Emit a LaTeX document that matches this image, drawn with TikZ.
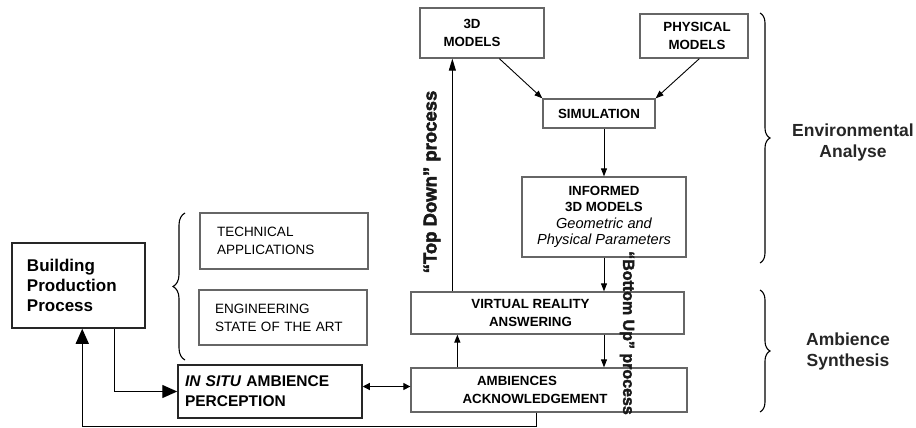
\documentclass[tikz,border=0pt]{standalone}
\usepackage{fontspec}
\setmainfont{Liberation Sans}
\usetikzlibrary{arrows.meta,decorations.pathreplacing,calc}
\begin{document}
\begin{tikzpicture}[x=1pt,y=-1pt,
  box/.style={draw=black!60, line width=1.3pt, inner sep=0pt, align=center,
    font=\fontsize{13.3}{17.5}\selectfont\bfseries},
  lbox/.style={draw=black!60, line width=1.3pt, inner ysep=0pt, align=left,
    font=\fontsize{13.5}{18}\selectfont},
  dbox/.style={draw=black!85, line width=1.5pt, inner ysep=0pt, align=left},
  arr/.style={-{Triangle[length=8pt,width=6pt]}, line width=0.9pt},
  bigarr/.style={-{Triangle[length=15pt,width=13pt]}, line width=1.3pt},
  darr/.style={{Triangle[length=7pt,width=7pt]}-{Triangle[length=7pt,width=7pt]}, line width=1.1pt},
  brace/.style={decorate, decoration={brace, amplitude=#1}, line width=1.1pt},
  side/.style={font=\fontsize{17.5}{21}\selectfont\bfseries, align=center, text=black!85},
  proc/.style={font=\fontsize{#1}{#1}\selectfont\bfseries\addfontfeatures{FakeBold=2.5}, text=black!90}
]
\useasboundingbox (0,0) rectangle (916,428);

% boxes
\node[box, minimum width=124pt, minimum height=50pt] (m3d) at (482,33)
  {3D\hspace*{20pt}\\MODELS\hspace*{20pt}};
\node[box, minimum width=108pt, minimum height=44pt] (phys) at (694,36)
  {\hspace*{6pt}PHYSICAL\\\hspace*{6pt}MODELS};
\node[box, minimum width=112pt, minimum height=29pt] (sim) at (599,113.5) {SIMULATION};
\node[box, minimum width=164pt, minimum height=80pt,
      font=\fontsize{13.3}{16.3}\selectfont] (inf) at (604,217)
  {\textbf{INFORMED}\\\textbf{3D MODELS}\\{\fontsize{14.6}{16.3}\selectfont\itshape Geometric and}\\{\fontsize{14.6}{16.3}\selectfont\itshape Physical Parameters}};
\node[box, minimum width=273pt, minimum height=42pt] (vr) at (547.5,313)
  {VIRTUAL REALITY\hspace*{34pt}\\ANSWERING\hspace*{34pt}};
\node[box, minimum width=276pt, minimum height=44pt] (amb) at (549,390)
  {AMBIENCES\hspace*{64pt}\\ACKNOWLEDGEMENT\hspace*{28pt}};
\node[lbox, inner xsep=17pt, text width=134pt, minimum height=56pt] (tech) at (284,241)
  {TECHNICAL\\APPLICATIONS};
\node[lbox, inner xsep=16pt, text width=136pt, minimum height=55pt] (eng) at (283,317.5)
  {ENGINEERING\\STATE OF THE ART};
\node[dbox, inner xsep=7pt, text width=170pt, minimum height=53pt,
      font=\fontsize{15.5}{20}\selectfont\bfseries] (insitu) at (270,391.5)
  {\textit{IN SITU} AMBIENCE\\PERCEPTION};
\node[dbox, inner xsep=15pt, text width=103pt, minimum height=85pt,
      font=\fontsize{17}{20}\selectfont\bfseries] (bpp) at (78.5,285.5)
  {Building\\Production\\Process};

% connectors
\draw[arr] ($(m3d.south west)+(80,0)$) -- (sim.north west);
\draw[arr] ($(phys.south west)+(60,0)$) -- (sim.north east);
\draw[arr] (sim.south -| inf.north) -- (inf.north);
\draw[arr] (inf.south) -- (vr.north -| inf.south);
\draw[arr] (vr.south -| inf.south) -- (amb.north -| inf.south);
\coordinate (tdb) at ($(vr.north west)+(42,0)$);
\draw[arr, {Triangle[length=12pt,width=7pt]}-] (tdb |- m3d.south) -- (tdb);
\coordinate (ab) at ($(amb.north west)+(47,0)$);
\draw[arr, line width=1.2pt] (ab) -- (ab |- vr.south);
\coordinate (bo) at ($(bpp.south west)+(103,0)$);
\draw[bigarr] (bo) |- (insitu.west);
\coordinate (ie) at ($(insitu.east)+(0,-5)$);
\draw[darr] (ie) -- (ie -| amb.west);
\coordinate (fa) at ($(amb.south west)+(126,0)$);
\coordinate (fl) at ($(bpp.south west)+(71,0)$);
\draw[bigarr] (fa) |- ($(fl)+(0,98)$) -- (fl);

% braces
\draw[brace=12pt] (185,360) -- (185,213);
\draw[brace=10pt] (760,13) -- (760,263);
\draw[brace=10pt] (760,290) -- (760,412);

% side labels
\node[side] (ea) at (853,142) {Environmental\\Analyse};
\node[side] (as) at (848,351) {Ambience\\Synthesis};

% process labels
\node[proc=18.5, rotate=90] (td) at (432,182) {“Top Down” process};
\node[proc=16, rotate=-90] (bu) at (627,333) {“Bottom Up” process};
\end{tikzpicture}
\end{document}
